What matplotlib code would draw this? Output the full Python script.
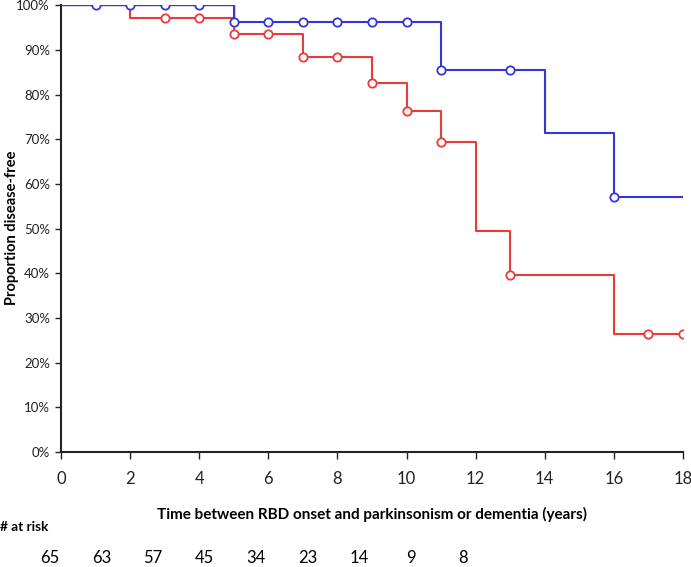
import matplotlib
matplotlib.use("Agg")
import matplotlib.pyplot as plt
from matplotlib.ticker import FuncFormatter

plt.rcParams['font.family'] = ['Lato', 'DejaVu Sans']

# Blue group: step times and survival (%)
blue_t = [0, 5, 11, 14, 16, 18]
blue_s = [100, 96.2, 85.5, 71.3, 57.1, 57.1]
blue_mark_t = [1, 2, 3, 4, 5, 6, 7, 8, 9, 10, 11, 13, 16]
blue_mark_s = [100, 100, 100, 100, 96.2, 96.2, 96.2, 96.2, 96.2, 96.2, 85.5, 85.5, 57.1]

# Red group
red_t = [0, 2, 5, 7, 9, 10, 11, 12, 13, 16, 18]
red_s = [100, 97.1, 93.5, 88.5, 82.7, 76.4, 69.3, 49.5, 39.6, 26.5, 26.5]
red_mark_t = [3, 4, 5, 6, 7, 8, 9, 10, 11, 13, 17, 18]
red_mark_s = [97.1, 97.1, 93.5, 93.5, 88.5, 88.5, 82.7, 76.4, 69.3, 39.6, 26.5, 26.5]

at_risk = [65, 63, 57, 45, 34, 23, 14, 9, 8]

BLUE = '#3535de'
RED = '#ea3b3b'

fig = plt.figure(figsize=(6.91, 5.67), dpi=100)
ax = fig.add_axes([0.0883, 0.2028, 0.9, 0.788])

ax.step(red_t, red_s, where='post', color=RED, lw=1.5, zorder=2)
ax.plot(red_mark_t, red_mark_s, 'o', ms=6, mfc='white', mec=RED, mew=1.3, zorder=3)

# blue: thin first segment, thicker afterwards
ax.step(blue_t[:2], blue_s[:2], where='post', color=BLUE, lw=1.0, zorder=4)
ax.step(blue_t[1:], blue_s[1:], where='post', color=BLUE, lw=1.5, zorder=4)
ax.plot([blue_t[1], blue_t[1]], [blue_s[0], blue_s[1]], color=BLUE, lw=1.5, zorder=4)
ax.plot(blue_mark_t, blue_mark_s, 'o', ms=6, mfc='white', mec=BLUE, mew=1.3, zorder=5)

ax.set_xlim(0, 18)
ax.set_ylim(0, 100)
ax.set_xticks(range(0, 19, 2))
ax.set_yticks(range(0, 101, 10))
ax.yaxis.set_major_formatter(FuncFormatter(lambda v, p: f"{int(v)}%"))
ax.spines['top'].set_visible(False)
ax.spines['right'].set_visible(False)
ax.spines['left'].set_color('#222222')
ax.spines['bottom'].set_color('#222222')
ax.spines['left'].set_linewidth(1.5)
ax.spines['bottom'].set_linewidth(1.5)
ax.tick_params(axis='x', direction='out', length=5, width=1, labelsize=12, pad=9, colors='#222222')
ax.tick_params(axis='y', direction='out', length=4, width=1, labelsize=9.5, pad=4, colors='#222222')
ax.set_xlabel('Time between RBD onset and parkinsonism or dementia (years)',
              fontsize=11, fontweight='bold', labelpad=14)

fig.text(12 / 691, 1 - 228 / 567, 'Proportion disease-free', fontsize=10.5, fontweight='bold',
         rotation=90, ha='center', va='center')

fig.text(0.0, 1 - 527 / 567, '# at risk', fontsize=9.8, fontweight='bold', va='center', ha='left')
for i, n in enumerate(at_risk):
    x_px = 50 + i * 51.6
    fig.text(x_px / 691, 1 - 558 / 567, str(n), fontsize=12, va='center', ha='center')

fig.savefig('out.png', dpi=100)
